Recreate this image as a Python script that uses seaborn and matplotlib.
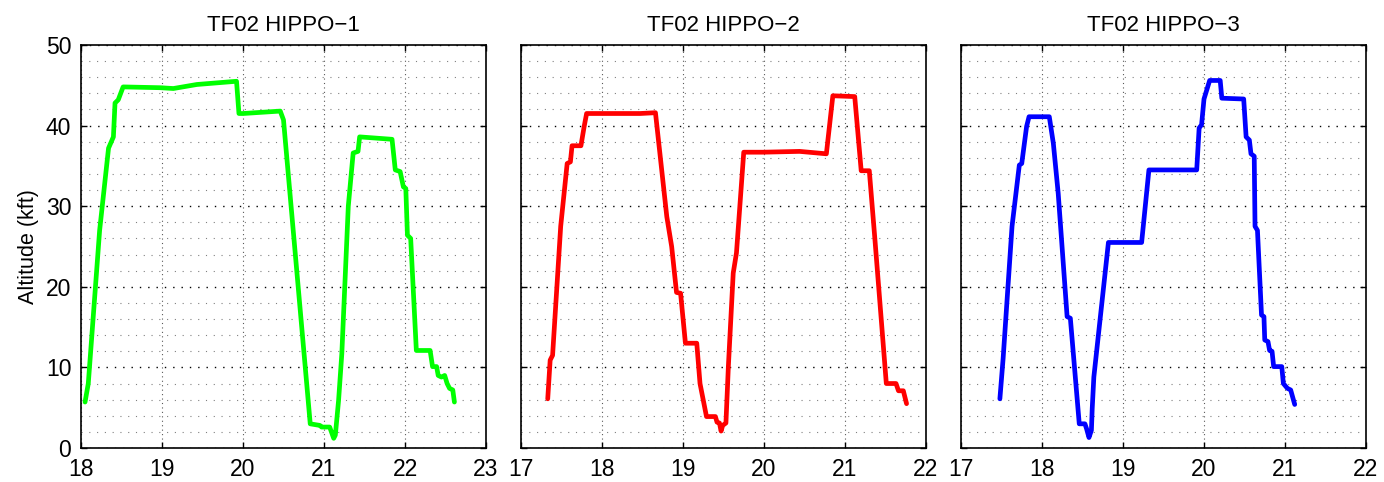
import numpy as np
import pandas as pd
import matplotlib
matplotlib.use("Agg")
import matplotlib.pyplot as plt
from matplotlib.ticker import MultipleLocator
import seaborn as sns

# Flight tracks: time (hour UTC) vs altitude (kft)
hippo1_time = [18.05, 18.09, 18.23, 18.34, 18.40, 18.42, 18.46, 18.52, 18.98, 19.14,
               19.43, 19.92, 19.95, 20.00, 20.46, 20.50, 20.83, 20.95, 20.97, 21.07,
               21.12, 21.14, 21.18, 21.22, 21.30, 21.36, 21.42, 21.44, 21.84, 21.88,
               21.94, 21.98, 22.01, 22.03, 22.07, 22.14, 22.31, 22.34, 22.39, 22.41,
               22.45, 22.49, 22.52, 22.55, 22.59, 22.61]
hippo1_alt = [5.7, 8.0, 27.0, 37.2, 38.6, 42.8, 43.2, 44.8, 44.7, 44.6,
              45.1, 45.5, 41.5, 41.5, 41.8, 40.7, 3.0, 2.8, 2.6, 2.6,
              1.2, 1.6, 5.9, 11.7, 30.0, 36.6, 36.8, 38.6, 38.3, 34.5,
              34.3, 32.4, 32.2, 26.4, 26.0, 12.1, 12.1, 10.1, 10.1, 9.0,
              8.8, 9.0, 8.0, 7.4, 7.2, 5.7]

hippo2_time = [17.33, 17.36, 17.39, 17.49, 17.57, 17.61, 17.63, 17.74, 17.78, 17.81,
               18.47, 18.66, 18.80, 18.86, 18.92, 18.97, 19.03, 19.17, 19.21, 19.29,
               19.40, 19.42, 19.45, 19.47, 19.49, 19.53, 19.56, 19.62, 19.66, 19.75,
               19.99, 20.44, 20.77, 20.85, 21.12, 21.20, 21.30, 21.37, 21.51, 21.63,
               21.66, 21.72, 21.76]
hippo2_alt = [6.1, 10.9, 11.5, 27.5, 35.3, 35.5, 37.5, 37.5, 39.9, 41.5,
              41.5, 41.6, 28.7, 25.0, 19.3, 19.2, 13.0, 13.0, 8.0, 3.9,
              3.9, 3.2, 3.1, 2.1, 2.8, 3.1, 10.1, 21.7, 24.2, 36.7,
              36.7, 36.8, 36.5, 43.7, 43.6, 34.4, 34.4, 25.8, 8.0, 8.0,
              7.1, 7.1, 5.5]

hippo3_time = [17.48, 17.52, 17.63, 17.72, 17.75, 17.81, 17.84, 18.09, 18.14, 18.20,
               18.31, 18.35, 18.46, 18.53, 18.55, 18.58, 18.61, 18.62, 18.64, 18.82,
               19.23, 19.32, 19.91, 19.94, 19.97, 20.00, 20.07, 20.20, 20.22, 20.49,
               20.52, 20.56, 20.58, 20.62, 20.63, 20.66, 20.71, 20.74, 20.75, 20.79,
               20.81, 20.84, 20.86, 20.96, 20.98, 21.03, 21.07, 21.12]
hippo3_alt = [6.1, 11.1, 27.5, 35.1, 35.3, 39.9, 41.1, 41.1, 37.8, 31.6,
              16.3, 16.1, 3.0, 3.0, 2.4, 1.3, 2.2, 4.9, 8.8, 25.5,
              25.5, 34.5, 34.5, 39.7, 40.1, 43.3, 45.6, 45.6, 43.4, 43.3,
              38.6, 38.2, 36.5, 36.2, 27.5, 27.0, 16.5, 16.3, 13.4, 13.2,
              12.1, 12.0, 10.1, 10.1, 8.0, 7.4, 7.2, 5.4]

panel_titles = ["TF02 HIPPO\u22121", "TF02 HIPPO\u22122", "TF02 HIPPO\u22123"]
panel_xlims = [(18, 23), (17, 22), (17, 22)]
panel_colors = ["#00ff00", "#ff0000", "#0000ff"]

sns.set_style("ticks")
plt.rcParams["font.family"] = ["Liberation Sans", "DejaVu Sans"]
plt.rcParams["axes.unicode_minus"] = True
for key in ["text.color", "axes.labelcolor", "xtick.color", "ytick.color"]:
    plt.rcParams[key] = "black"

fig = plt.figure(figsize=(13.84, 4.82), dpi=100)
lefts = [81, 521, 961]
axes = [fig.add_axes([l / 1384, 1 - 448 / 482, 405 / 1384, 403 / 482]) for l in lefts]

tracks = [(hippo1_time, hippo1_alt), (hippo2_time, hippo2_alt), (hippo3_time, hippo3_alt)]

for i, (ax, (t, alt)) in enumerate(zip(axes, tracks)):
    df = pd.DataFrame({"time": t, "alt": alt})
    sns.lineplot(data=df, x="time", y="alt", sort=False, estimator=None,
                 color=panel_colors[i], linewidth=3.4, ax=ax, zorder=3)
    ax.lines[-1].set_solid_joinstyle("round")
    ax.set_xlim(*panel_xlims[i])
    ax.set_ylim(0, 50)
    ax.xaxis.set_major_locator(MultipleLocator(1))
    ax.yaxis.set_major_locator(MultipleLocator(10))
    ax.yaxis.set_minor_locator(MultipleLocator(2))
    ax.xaxis.grid(True, which="major", color="0.35", linestyle=(0, (1, 3)), linewidth=0.8)
    ax.yaxis.grid(True, which="major", color="k", linestyle=(0, (1, 5)), linewidth=1.0)
    ax.yaxis.grid(True, which="minor", color="0.5", linestyle=(0, (1, 6)), linewidth=0.8)
    ax.set_axisbelow(True)
    ax.tick_params(which="major", direction="in", length=4, width=1,
                   top=True, right=True, labelsize=16.5)
    ax.tick_params(axis="x", pad=7.5)
    ax.tick_params(axis="y", pad=7)
    ax.tick_params(which="minor", length=0)
    for s in ax.spines.values():
        s.set_linewidth(1.2)
        s.set_color("k")
    ax.set_title(panel_titles[i], fontsize=16, pad=10)
    ax.set_xlabel("")
    if i == 0:
        ax.set_ylabel("Altitude (kft)", fontsize=15.5, labelpad=5)
    else:
        ax.set_ylabel("")
        ax.set_yticklabels([])

fig.savefig("out.png", dpi=100)
